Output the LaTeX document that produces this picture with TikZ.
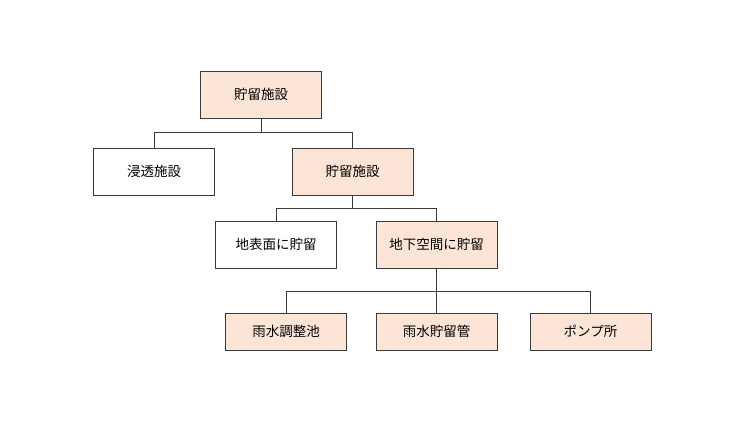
\documentclass[tikz,border=0pt]{standalone}
\usepackage{fontspec}
\setmainfont{Noto Sans CJK JP}
\usepackage{xcolor}
\usepackage{tikz}
\usetikzlibrary{calc,positioning}
\definecolor{boxfill}{HTML}{FCE4D6}
\definecolor{boxline}{HTML}{3A3A3A}

\begin{document}
\begin{tikzpicture}[x=1pt,y=-1pt,line width=1pt,
    item/.style={draw=boxline,fill=white,minimum width=121pt,minimum height=47pt,
      inner sep=0pt,font=\fontsize{13.5}{16}\selectfont},
    hot/.style={item,fill=boxfill},
    leaf/.style={hot,minimum height=37pt},
    link/.style={draw=boxline,line width=1pt}]
    \useasboundingbox (0,0) rectangle (750,424);
    % boxes
    \node[hot]  (top)  at (261,94.5)    {貯留施設};
    \node[item] (inf)  at (154,171.5)   {浸透施設};
    \node[hot]  (sto)  at (352.5,171.5) {貯留施設};
    \node[item] (surf) at (276,244.5)   {地表面に貯留};
    \node[hot]  (under) at (436.5,244.5) {地下空間に貯留};
    \node[leaf] (pond) at (286,331.5)   {雨水調整池};
    \node[leaf] (pipe) at (436.5,331.5) {雨水貯留管};
    \node[leaf] (pump) at (590.5,331.5) {ポンプ所};
    % bus lines
    \coordinate (bus1) at (0,132);
    \coordinate (bus2) at (0,208.5);
    \coordinate (bus3) at (0,291);
    \draw[link] (top.south) -- (top.south |- bus1);
    \draw[link] (top.south |- bus1) -| (inf.north);
    \draw[link] (top.south |- bus1) -| (sto.north);
    \draw[link] (sto.south) -- (sto.south |- bus2);
    \draw[link] (sto.south |- bus2) -| (surf.north);
    \draw[link] (sto.south |- bus2) -| (under.north);
    \draw[link] (under.south) -- (pipe.north);
    \draw[link] (under.south |- bus3) -| (pond.north);
    \draw[link] (under.south |- bus3) -| (pump.north);
  \end{tikzpicture}
\end{document}
